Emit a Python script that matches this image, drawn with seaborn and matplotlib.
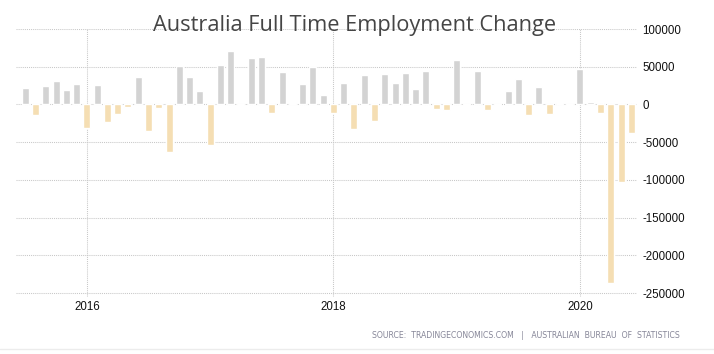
"""
Australia full time employment change, monthly bars (Jul 2015 - Jun 2020).
"""

import numpy as np
import pandas as pd
import seaborn as sns
import matplotlib.pyplot as plt
from matplotlib.lines import Line2D

# monthly change in full time employment, Jul 2015 .. Jun 2020
months = pd.period_range("2015-07", "2020-06", freq="M").strftime("%Y-%m").tolist()
change = [
    22000, -14000, 24800, 31500, 19400, 27500,
    -31500, 26100, -23400, -12600, -3200, 36900,
    -35600, -4500, -62600, 50500, 36900, 18000,
    -53200, 51800, 70700, -1000, 61300, 62600,
    -11700, 43700, 2300, 27500, 49500, 12600,
    -11700, 28800, -32000, 39600, -22500, 41000,
    28800, 42300, 20700, 45000, -6300, -7700,
    58600, -1000, 45000, -7700, -1000, 18000,
    34200, -14400, 23400, -13100, 1800, -1000,
    46400, 3200, -11700, -236500, -103200, -38300,
]
year_ticks = ["2016-01", "2018-01", "2020-01"]
year_labels = ["2016", "2018", "2020"]
y_ticks = [100000, 50000, 0, -50000, -100000, -150000, -200000, -250000]

df = pd.DataFrame({"month": months, "change": change})
df["sign"] = np.where(df["change"] >= 0, "up", "down")

sns.set_style("white")
plt.rcParams["font.family"] = ["Liberation Sans", "DejaVu Sans"]

fig = plt.figure(figsize=(7.14, 3.54), dpi=100)
ax = fig.add_axes([16 / 714, 1 - 297 / 354, (637 - 16) / 714, (297 - 29) / 354])

sns.barplot(
    data=df, x="month", y="change", hue="sign", order=months,
    palette={"up": "#d3d3d3", "down": "#f5deb3"}, saturation=1,
    dodge=False, width=0.68, legend=False, ax=ax,
)

ax.set_xlim(-0.9, 59.55)
ax.set_ylim(-255000, 100000)
ax.set_xticks([months.index(m) for m in year_ticks])
ax.set_xticklabels(year_labels)
ax.set_yticks(y_ticks)
ax.set_yticklabels([str(v) for v in y_ticks])
ax.yaxis.tick_right()
ax.tick_params(axis="both", length=0, labelsize=8.3, colors="#111111")
ax.tick_params(axis="y", pad=4)
ax.tick_params(axis="x", pad=3)
ax.set_xlabel("")
ax.set_ylabel("")

ax.set_axisbelow(True)
ax.grid(True, axis="both", color="#c8c8c8", linestyle=(0, (1, 1)), linewidth=0.75)
for s in ax.spines.values():
    s.set_visible(False)

fig.text(
    0.497, 1 - 25 / 354, "Australia Full Time Employment Change",
    ha="center", va="center", fontsize=15.7, color="#454545",
    family=["Open Sans", "DejaVu Sans"],
)
fig.text(
    680 / 714, 1 - 335 / 354,
    "SOURCE:  TRADINGECONOMICS.COM   |   AUSTRALIAN  BUREAU  OF  STATISTICS",
    ha="right", va="center", fontsize=5.6, color="#868698",
    family=["DejaVu Sans"],
)
fig.add_artist(Line2D([0, 1], [1 - 349 / 354] * 2, transform=fig.transFigure,
                      color="#ececec", linewidth=1))

fig.savefig("out.png", dpi=100)
